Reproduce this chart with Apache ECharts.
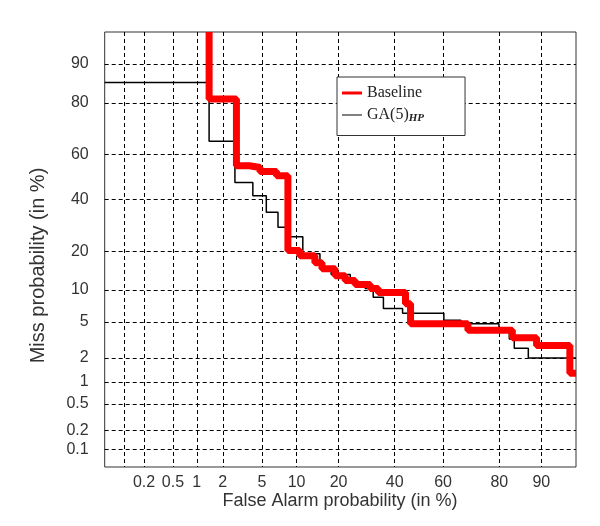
<!DOCTYPE html>
<html><head><meta charset="utf-8">
<script src="https://cdn.jsdelivr.net/npm/echarts@6/dist/echarts.min.js"></script>
<style>html,body{margin:0;padding:0;background:#fff}#c{width:600px;height:526px}</style>
</head><body><div id="c"></div>
<script>
// Tick labels (in %) used on both axes
const tickLabels = [0.1, 0.2, 0.5, 1, 2, 5, 10, 20, 40, 60, 80, 90];
const axisMinPct = 0.05;
const axisMaxPct = 95;

// Baseline step curve (False alarm %, Miss %)
const baselineFA   = [1.4, 1.4, 2.8, 2.8, 3.8, 3.8, 4.8, 4.8, 6.8, 6.8, 8.5, 8.5, 10.6, 10.6, 13.8, 13.8, 15.5, 15.5, 19.0, 19.0, 22, 22, 25.2, 25.2, 30.5, 30.5, 33.5, 33.5, 44.4, 44.4, 46.5, 46.5, 69.6, 69.6, 83.6, 83.6, 89.1, 89.1, 94.3, 94.3, 95];
const baselineMiss = [95, 81.2, 81.2, 55.1, 55.1, 54.3, 54.3, 52.5, 52.5, 50.6, 50.6, 20.2, 20.2, 18.6, 18.6, 16.5, 16.5, 14.9, 14.9, 13.1, 13.1, 12, 12, 11.1, 11.1, 10.3, 10.3, 9.5, 9.5, 7.5, 7.5, 4.8, 4.8, 4.1, 4.1, 3.4, 3.4, 2.8, 2.8, 1.3, 1.3];

// GA(5)_HP step curve
const gaFA   = [0.05, 1.4, 1.4, 2.7, 2.7, 4.1, 4.1, 5.5, 5.5, 7.0, 7.0, 8.3, 8.3, 11.2, 11.2, 15, 15, 17.9, 17.9, 23.6, 23.6, 28.7, 28.7, 31.6, 31.6, 35.5, 35.5, 43.2, 43.2, 60.3, 60.3, 67, 67, 79.9, 79.9, 82.8, 82.8, 84.1, 84.1, 87.4, 87.4, 95];
const gaMiss = [85.8, 85.8, 65.7, 65.7, 47.5, 47.5, 41.6, 41.6, 34.4, 34.4, 28.4, 28.4, 24.9, 24.9, 19.2, 19.2, 15.4, 15.4, 13.4, 13.4, 11.5, 11.5, 10.3, 10.3, 8.6, 8.6, 6.8, 6.8, 6.1, 6.1, 5.2, 5.2, 4.8, 4.8, 4.1, 4.1, 3.3, 3.3, 2.6, 2.6, 2.0, 2.0];

// Normal deviate (probit) of a percentage
function probit(pct) {
  const p = pct / 100;
  const a = [-3.969683028665376e+01, 2.209460984245205e+02, -2.759285104469687e+02, 1.383577518672690e+02, -3.066479806614716e+01, 2.506628277459239e+00];
  const b = [-5.447609879822406e+01, 1.615858368580409e+02, -1.556989798598866e+02, 6.680131188771972e+01, -1.328068155288572e+01];
  const c = [-7.784894002430293e-03, -3.223964580411365e-01, -2.400758277161838e+00, -2.549732539343734e+00, 4.374664141464968e+00, 2.938163982698783e+00];
  const d = [7.784695709041462e-03, 3.224671290700398e-01, 2.445134137142996e+00, 3.754408661907416e+00];
  const pl = 0.02425;
  if (p < pl) {
    const q = Math.sqrt(-2 * Math.log(p));
    return (((((c[0]*q+c[1])*q+c[2])*q+c[3])*q+c[4])*q+c[5]) / ((((d[0]*q+d[1])*q+d[2])*q+d[3])*q+1);
  }
  if (p <= 1 - pl) {
    const q = p - 0.5, r = q * q;
    return (((((a[0]*r+a[1])*r+a[2])*r+a[3])*r+a[4])*r+a[5])*q / (((((b[0]*r+b[1])*r+b[2])*r+b[3])*r+b[4])*r+1);
  }
  const q = Math.sqrt(-2 * Math.log(1 - p));
  return -(((((c[0]*q+c[1])*q+c[2])*q+c[3])*q+c[4])*q+c[5]) / ((((d[0]*q+d[1])*q+d[2])*q+d[3])*q+1);
}

const tickVals = tickLabels.map(probit);
function fmt(v) {
  let best = -1, bd = Infinity;
  tickVals.forEach((t, i) => { const dd = Math.abs(t - Number(v)); if (dd < bd) { bd = dd; best = i; } });
  return (best >= 0 && bd < 0.05) ? String(tickLabels[best]) : '';
}
const toPts = (xs, ys) => xs.map((x, i) => [probit(x), probit(ys[i])]);

const gridLine = { show: true, lineStyle: { color: '#000', width: 1, type: [4, 3] } };
const sansFont = 'Liberation Sans, Arial, sans-serif';
const serifFont = 'Liberation Serif, Times New Roman, serif';
const labelStyle = { fontSize: 16, color: '#333', fontFamily: sansFont };
const vMin = probit(axisMinPct), vMax = probit(axisMaxPct);

const chart = echarts.init(document.getElementById('c'), null, { renderer: 'canvas' });
chart.setOption({
  animation: false,
  backgroundColor: '#fff',
  tooltip: { show: false },
  title: {
    text: 'False Alarm probability (in %)', left: 340, top: 492, textAlign: 'center', padding: 0,
    textStyle: { fontSize: 18, fontWeight: 'normal', color: '#333', fontFamily: sansFont }
  },
  grid: { left: 104.7, right: 24, top: 32, bottom: 59, show: true, borderColor: '#333', borderWidth: 1, backgroundColor: 'transparent' },
  xAxis: {
    type: 'value', min: vMin, max: vMax,
    axisLine: { show: false }, axisTick: { show: false, customValues: tickVals },
    axisLabel: Object.assign({ customValues: tickVals, formatter: fmt, margin: 8, hideOverlap: false }, labelStyle),
    splitLine: gridLine
  },
  yAxis: {
    type: 'value', min: vMin, max: vMax,
    name: 'Miss probability (in %)', nameLocation: 'middle', nameGap: 56,
    nameTextStyle: { fontSize: 20, color: '#333', fontFamily: sansFont, padding: [0, 32, 0, 0] },
    axisLine: { show: false }, axisTick: { show: false, customValues: tickVals },
    axisLabel: Object.assign({ customValues: tickVals, formatter: fmt, margin: 16, hideOverlap: false }, labelStyle),
    splitLine: gridLine
  },
  legend: {
    orient: 'vertical', left: 337, top: 77,
    itemWidth: 20, itemHeight: 14, itemGap: 6,
    padding: [8, 41, 12, 5],
    borderColor: '#333', borderWidth: 1, backgroundColor: '#fff',
    textStyle: { fontFamily: serifFont, fontSize: 16, color: '#222',
      rich: { sub: { fontFamily: serifFont, fontSize: 11, fontStyle: 'italic', fontWeight: 'bold', color: '#222', padding: [6, 0, 0, 0] } } },
    formatter: n => n === 'GA(5)HP' ? 'GA(5){sub|HP}' : n,
    data: [
      { name: 'Baseline', icon: 'path://M0 0H20V3H0Z', itemStyle: { color: '#ff0000' } },
      { name: 'GA(5)HP', icon: 'path://M0 0H20V1H0Z', itemStyle: { color: '#000' } }
    ]
  },
  series: [
    { name: 'Baseline', type: 'line', data: toPts(baselineFA, baselineMiss), symbol: 'none', z: 3,
      lineStyle: { color: '#ff0000', width: 7 }, itemStyle: { color: '#ff0000' } },
    { name: 'GA(5)HP', type: 'line', data: toPts(gaFA, gaMiss), symbol: 'none', z: 2,
      lineStyle: { color: '#000', width: 1.5 }, itemStyle: { color: '#000' } }
  ]
});
</script>
</body></html>
